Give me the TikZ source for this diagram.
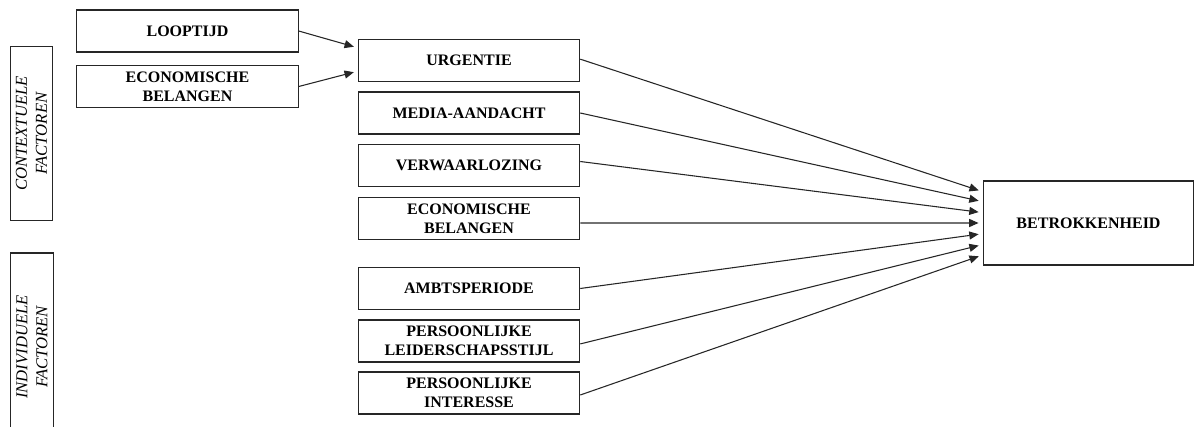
\documentclass[tikz,border=0pt]{standalone}
\usepackage{fontspec}
\setmainfont{Liberation Serif}
\usetikzlibrary{
    arrows.meta,
    positioning,
    calc
}
\tikzset{
    % --- Factor block (rectangle with bold caps label) ---
    factor/.style = {
        rectangle, draw=black!85, line width=0.9pt,
        minimum width=166pt, minimum height=31.5pt,
        font=\fontsize{12}{14}\selectfont\bfseries, align=center,
        inner sep=2pt
    },
    % --- Outcome block ---
    outcome/.style = {
        factor, minimum width=158pt, minimum height=63pt
    },
    % --- Rotated group label (italic) ---
    group/.style = {
        rectangle, draw=black!85, line width=0.9pt, rotate=90,
        minimum height=32pt,
        font=\fontsize{12.5}{15}\selectfont\itshape, align=center,
        inner sep=1pt
    },
    % --- Influence arrow ---
    influence/.style = {
        -{Triangle[length=7pt, width=6pt]}, line width=0.8pt, black!85
    }
}

\begin{document}
\begin{tikzpicture}[x=0.75pt, y=-0.75pt]

\clip (0,0) rectangle (1195,427);

% ---------------------------------------------------------
% Group labels (left)
% ---------------------------------------------------------
\node[group, minimum width=131pt] (Ctx) at (31.5, 133.5) {CONTEXTUELE\\FACTOREN};
\node[group, minimum width=141pt] (Ind) at (32, 347) {INDIVIDUELE\\FACTOREN};

% ---------------------------------------------------------
% Antecedents of urgency
% ---------------------------------------------------------
\node[factor] (Loop) at (187.5, 31) {LOOPTIJD};
\node[factor] (EcoA) at (187.5, 86.5) {ECONOMISCHE\\BELANGEN};

% ---------------------------------------------------------
% Contextual factors (middle)
% ---------------------------------------------------------
\node[factor] (Urg)  at (469, 60.5)  {URGENTIE};
\node[factor] (Med)  at (469, 113)   {MEDIA-AANDACHT};
\node[factor] (Verw) at (469, 165.5) {VERWAARLOZING};
\node[factor] (EcoB) at (469, 218.5) {ECONOMISCHE\\BELANGEN};

% ---------------------------------------------------------
% Individual factors (middle)
% ---------------------------------------------------------
\node[factor] (Ambt) at (469, 288.5) {AMBTSPERIODE};
\node[factor] (Leid) at (469, 341)   {PERSOONLIJKE\\LEIDERSCHAPSSTIJL};
\node[factor] (Int)  at (469, 393)   {PERSOONLIJKE\\INTERESSE};

% ---------------------------------------------------------
% Outcome (right)
% ---------------------------------------------------------
\node[outcome] (Betr) at (1088.5, 223) {BETROKKENHEID};

% Arrows into urgency
\draw[influence, shorten >=3pt] (Loop.east) -- ([yshift=9.5pt]Urg.west);
\draw[influence, shorten >=3pt] (EcoA.east) -- ([yshift=-8pt]Urg.west);

% Arrows into involvement
\foreach \src/\sy/\dy in {Urg/1/23.5, Med/0/16, Verw/3/7.8, EcoB/-3.4/0,
                          Ambt/0/-8, Leid/-2.2/-16.2, Int/-1.5/-24}
    \draw[influence, shorten >=3pt] ([yshift=\sy pt]\src.east) -- ([yshift=\dy pt]Betr.west);

\end{tikzpicture}
\end{document}
